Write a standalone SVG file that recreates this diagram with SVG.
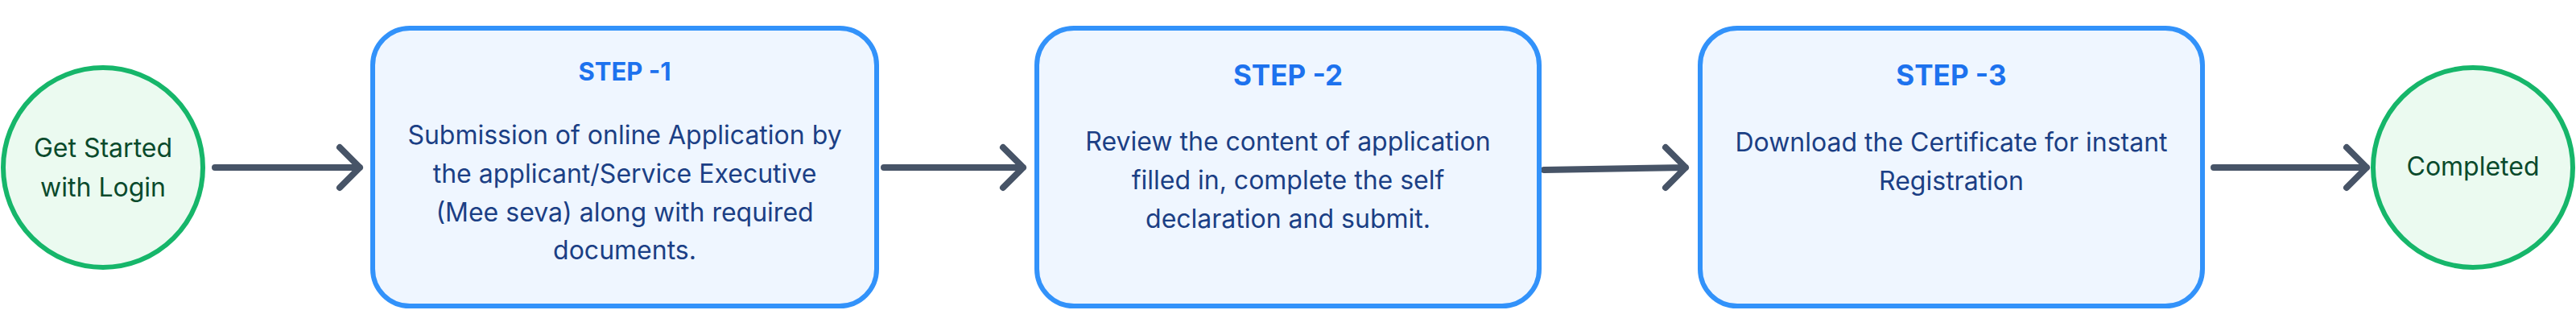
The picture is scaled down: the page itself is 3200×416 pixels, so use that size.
<svg xmlns="http://www.w3.org/2000/svg" width="3200" height="416" viewBox="0 0 3200 416">
<style>
  .term { fill: #ebfaf0; stroke: #16b66a; stroke-width: 6; }
  .termtxt { font-family: Inter, "Noto Sans", "Liberation Sans", sans-serif; font-size: 32px; fill: #0a4a2c; text-anchor: middle; }
  .box { fill: #eff6ff; stroke: #3292fa; stroke-width: 6; }
  .step { font-family: Inter, "Noto Sans", "Liberation Sans", sans-serif; font-weight: 700; fill: #1d72ee; text-anchor: middle; }
  .body { font-family: Inter, "Noto Sans", "Liberation Sans", sans-serif; font-size: 32px; fill: #1b3f85; text-anchor: middle; }
  .conn { fill: none; stroke: #475467; stroke-width: 8; stroke-linecap: round; stroke-linejoin: round; }
</style>
<rect width="3200" height="416" fill="#ffffff"/>
<g id="connectors">
  <path class="conn" d="M267 208 H447 M422 183 L447 208 L422 233"/>
  <path class="conn" d="M1098 208 H1271 M1246 183 L1271 208 L1246 233"/>
  <path class="conn" d="M1918 211 L2094 208 M2069 183 L2094 208 L2069 233"/>
  <path class="conn" d="M2750 208 H2940 M2915 183 L2940 208 L2915 233"/>
</g>
<g id="start">
  <circle class="term" cx="128" cy="208" r="124"/>
  <text class="termtxt" x="128" y="195">Get Started</text>
  <text class="termtxt" x="128" y="244">with Login</text>
</g>
<g id="step1">
  <rect class="box" x="463" y="35" width="626" height="345" rx="46" ry="46"/>
  <text class="step" x="776" y="100" font-size="31">STEP -1</text>
  <text class="body" x="776" y="179">Submission of online Application by</text>
  <text class="body" x="776" y="227">the applicant/Service Executive</text>
  <text class="body" x="776" y="275">(Mee seva) along with required</text>
  <text class="body" x="776" y="322">documents.</text>
</g>
<g id="step2">
  <rect class="box" x="1288" y="35" width="624" height="345" rx="46" ry="46"/>
  <text class="step" x="1600" y="106" font-size="35">STEP -2</text>
  <text class="body" x="1600" y="187">Review the content of application</text>
  <text class="body" x="1600" y="235">filled in, complete the self</text>
  <text class="body" x="1600" y="283">declaration and submit.</text>
</g>
<g id="step3">
  <rect class="box" x="2112" y="35" width="624" height="345" rx="46" ry="46"/>
  <text class="step" x="2424" y="106" font-size="35">STEP -3</text>
  <text class="body" x="2424" y="188">Download the Certificate for instant</text>
  <text class="body" x="2424" y="236">Registration</text>
</g>
<g id="end">
  <circle class="term" cx="3072" cy="208" r="124"/>
  <text class="termtxt" x="3072" y="218">Completed</text>
</g>
</svg>
